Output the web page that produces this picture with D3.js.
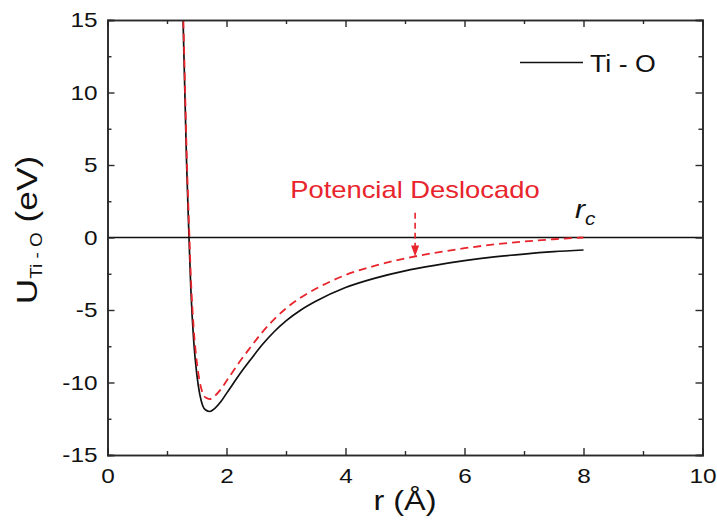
<!DOCTYPE html>
<html>
<head>
<meta charset="utf-8">
<script src="https://cdn.jsdelivr.net/npm/d3@7"></script>
<style>
  html, body { margin: 0; padding: 0; background: #fff; }
  svg { display: block; }
  text { font-family: "Liberation Sans", Arial, Helvetica, sans-serif; }
</style>
</head>
<body>
<svg id="chart" width="717" height="524"></svg>
<script>
// Ti–O pair potential U(r) and its shifted version (zero at the cutoff r_c)
const rTiO = [1.27, 1.30, 1.33, 1.37, 1.40, 1.45, 1.50, 1.55, 1.60, 1.65, 1.72, 1.80, 1.90, 2.0, 2.1, 2.2, 2.4, 2.6, 2.8, 3.0, 3.25, 3.5, 4.0, 4.5, 5.0, 5.5, 6.0, 6.5, 7.0, 7.5, 8.0];
const uTiO = [15, 10, 5, 0, -3.5, -7.2, -9.4, -10.8, -11.6, -11.9, -12.0, -11.8, -11.35, -10.75, -10.15, -9.55, -8.45, -7.4, -6.5, -5.75, -5.0, -4.4, -3.45, -2.8, -2.3, -1.92, -1.6, -1.34, -1.14, -0.98, -0.86];

const rShift = [1.27, 1.30, 1.33, 1.37, 1.40, 1.45, 1.50, 1.55, 1.60, 1.65, 1.72, 1.80, 1.90, 2.0, 2.1, 2.2, 2.4, 2.6, 2.8, 3.0, 3.25, 3.5, 4.0, 4.5, 5.0, 5.5, 6.0, 6.5, 7.0, 7.5, 8.0];
const uShift = [15.86, 10.86, 5.86, 0.86, -2.64, -6.34, -8.54, -9.94, -10.74, -11.04, -11.14, -10.94, -10.49, -9.89, -9.29, -8.69, -7.59, -6.54, -5.64, -4.89, -4.14, -3.54, -2.59, -1.94, -1.44, -1.06, -0.74, -0.48, -0.28, -0.12, 0];

const xTicks = [0, 2, 4, 6, 8, 10];
const xMinor = [1, 3, 5, 7, 9];
const yTicks = [-15, -10, -5, 0, 5, 10, 15];
const yMinor = [-12.5, -7.5, -2.5, 2.5, 7.5, 12.5];

const legendLabel = "Ti - O";
const shiftLabel = "Potencial Deslocado";
const arrowR = 5.17;      // where the annotation arrow touches the shifted curve
const arrowTopU = 1.7;

const plot = { left: 107.5, right: 702.5, top: 20, bottom: 455 };
const SX = 1.16; // horizontal widening of the lettering

const svg = d3.select("#chart");
const x = d3.scaleLinear().domain([0, 10]).range([plot.left, plot.right]);
const y = d3.scaleLinear().domain([-15, 15]).range([plot.bottom, plot.top]);

const axisColor = "#2a2a2a";
const red = "#e8242c";
const hyphenFmt = d => String(d); // plain hyphen-minus for negatives

svg.append("defs").append("clipPath").attr("id", "clip")
  .append("rect")
  .attr("x", plot.left).attr("y", plot.top)
  .attr("width", plot.right - plot.left).attr("height", plot.bottom - plot.top);

// zero reference line
svg.append("line")
  .attr("x1", x(0)).attr("x2", x(10))
  .attr("y1", y(0)).attr("y2", y(0))
  .attr("stroke", "#111").attr("stroke-width", 1.3);

const line = d3.line().curve(d3.curveMonotoneX);

const gCurves = svg.append("g").attr("clip-path", "url(#clip)");
gCurves.append("path")
  .attr("d", line(rTiO.map((r, i) => [x(r), y(uTiO[i])])))
  .attr("fill", "none").attr("stroke", "#111").attr("stroke-width", 1.7);
gCurves.append("path")
  .attr("d", line(rShift.map((r, i) => [x(r), y(uShift[i])])))
  .attr("fill", "none").attr("stroke", red).attr("stroke-width", 1.8)
  .attr("stroke-dasharray", "8,5");

// axes: ticks point inward on all four sides
function styleAxis(g) {
  g.select(".domain").attr("stroke", axisColor).attr("stroke-width", 1.6);
  g.selectAll(".tick line").attr("stroke", axisColor).attr("stroke-width", 1.4);
  g.selectAll("text").attr("fill", "#111").attr("font-size", 21);
}
const major = 7, minor = 4;

const gx = svg.append("g").attr("transform", `translate(0,${plot.bottom})`)
  .call(d3.axisBottom(x).tickValues(xTicks).tickSize(-major).tickPadding(13).tickFormat(hyphenFmt));
styleAxis(gx);
gx.selectAll(".tick text").attr("transform", `scale(${SX},1)`);
svg.append("g").attr("transform", `translate(0,${plot.bottom})`)
  .call(d3.axisBottom(x).tickValues(xMinor).tickSize(-minor).tickFormat(""))
  .call(styleAxis);

svg.append("g").attr("transform", `translate(0,${plot.top})`)
  .call(d3.axisTop(x).tickValues(xTicks).tickSize(-major).tickFormat(""))
  .call(styleAxis);
svg.append("g").attr("transform", `translate(0,${plot.top})`)
  .call(d3.axisTop(x).tickValues(xMinor).tickSize(-minor).tickFormat(""))
  .call(styleAxis);

const gy = svg.append("g").attr("transform", `translate(${plot.left},0)`)
  .call(d3.axisLeft(y).tickValues(yTicks).tickSize(-major).tickPadding(9).tickFormat(hyphenFmt));
styleAxis(gy);
gy.selectAll(".tick text").attr("transform", `scale(${SX},1)`).attr("x", -10 / SX);
svg.append("g").attr("transform", `translate(${plot.left},0)`)
  .call(d3.axisLeft(y).tickValues(yMinor).tickSize(-minor).tickFormat(""))
  .call(styleAxis);

svg.append("g").attr("transform", `translate(${plot.right},0)`)
  .call(d3.axisRight(y).tickValues(yTicks).tickSize(-major).tickFormat(""))
  .call(styleAxis);
svg.append("g").attr("transform", `translate(${plot.right},0)`)
  .call(d3.axisRight(y).tickValues(yMinor).tickSize(-minor).tickFormat(""))
  .call(styleAxis);

// helper for widened lettering
function label(px, py, fs, fill, anchor) {
  return svg.append("text")
    .attr("transform", `translate(${px},${py}) scale(${SX},1)`)
    .attr("font-size", fs).attr("fill", fill)
    .attr("text-anchor", anchor || "start");
}

// x-axis title
label((plot.left + plot.right) / 2, 510, 28, "#111", "middle").text("r (Å)");

// y-axis title: U with subscript Ti - O, then (eV)
const yt = svg.append("text")
  .attr("transform", `translate(37,230) rotate(-90) scale(1.18,1)`)
  .attr("text-anchor", "middle").attr("font-size", 30).attr("fill", "#111");
yt.append("tspan").text("U");
yt.append("tspan").attr("font-size", 16).attr("dy", 5).text("Ti - O");
yt.append("tspan").attr("dy", -5).text(" (eV)");

// legend
svg.append("line")
  .attr("x1", 520).attr("x2", 583).attr("y1", 62.5).attr("y2", 62.5)
  .attr("stroke", "#111").attr("stroke-width", 1.7);
label(590, 71.5, 23, "#111").text(legendLabel);

// annotation for the shifted potential
label(x(3.07), 198, 23.6, red).text(shiftLabel);
const uArrow = (function () {
  const i = rShift.findIndex(r => r >= arrowR);
  const t = (arrowR - rShift[i - 1]) / (rShift[i] - rShift[i - 1]);
  return uShift[i - 1] + t * (uShift[i] - uShift[i - 1]);
})();
const ax = x(arrowR), tipY = y(uArrow);
svg.append("line")
  .attr("x1", ax).attr("x2", ax).attr("y1", y(arrowTopU)).attr("y2", tipY - 9)
  .attr("stroke", red).attr("stroke-width", 1.6).attr("stroke-dasharray", "6,4");
svg.append("path")
  .attr("d", `M${ax - 4},${tipY - 11} L${ax + 4},${tipY - 11} L${ax},${tipY} Z`)
  .attr("fill", red);

// cutoff radius label r_c
const rc = svg.append("text")
  .attr("transform", `translate(575,218) scale(${SX},1)`)
  .attr("font-size", 26).attr("fill", "#111");
rc.append("tspan").attr("font-style", "italic").text("r");
rc.append("tspan").attr("font-style", "italic").attr("font-size", 18).attr("dy", 7).text("c");
</script>
</body>
</html>
